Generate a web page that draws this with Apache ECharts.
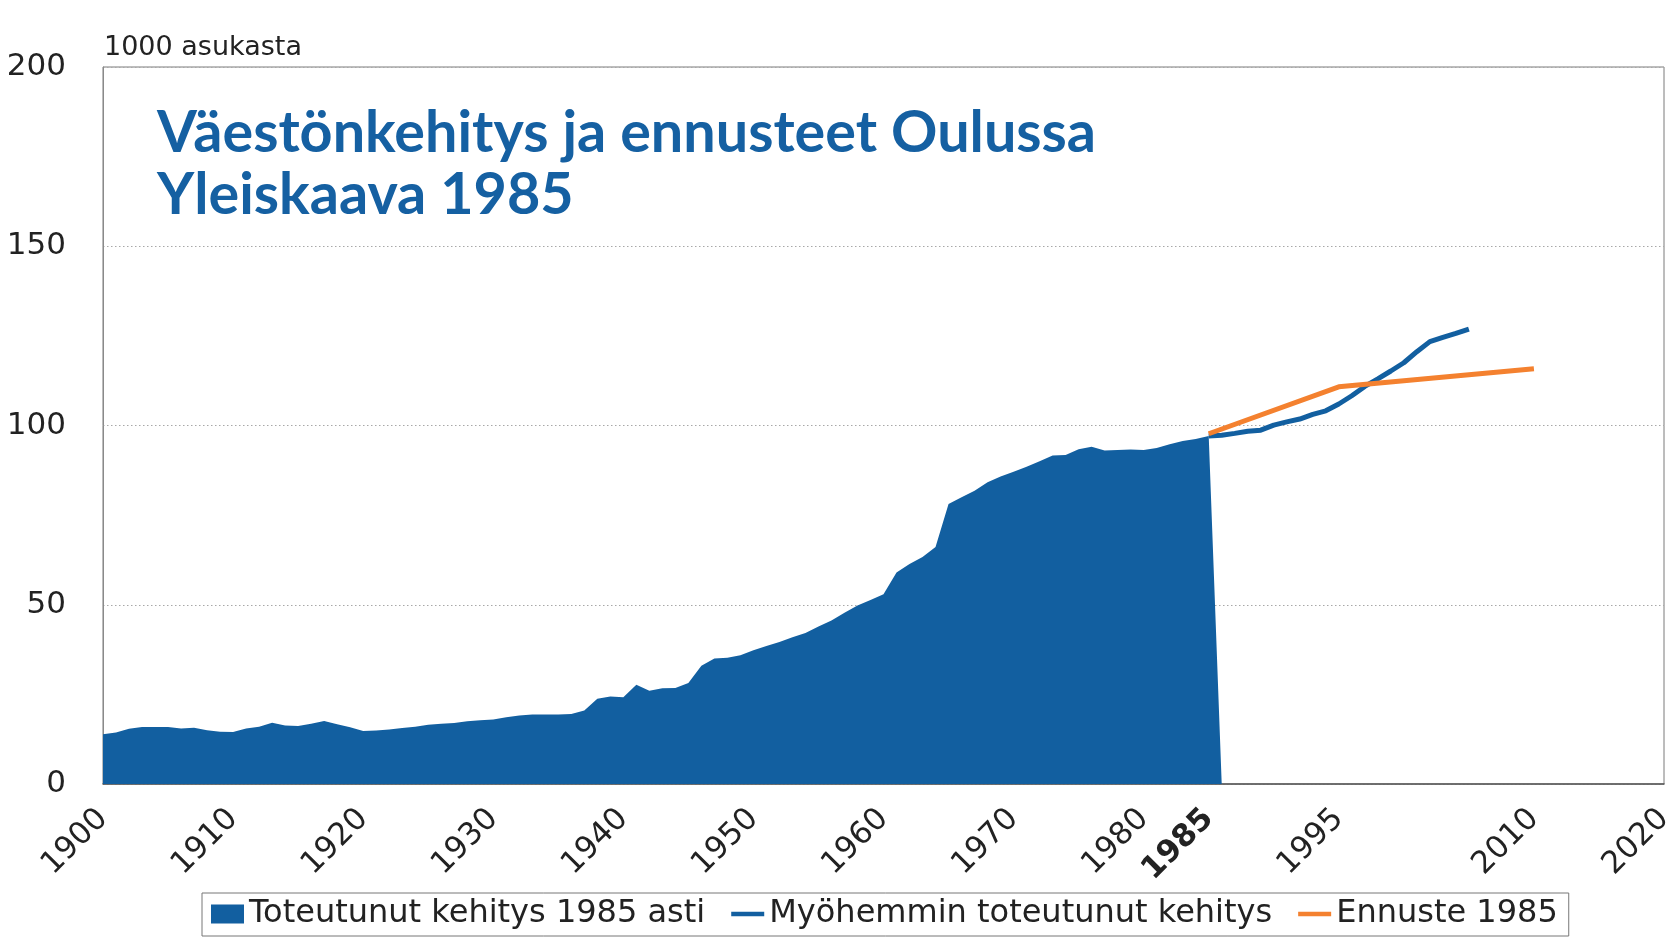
<!DOCTYPE html>
<html>
<head>
<meta charset="utf-8">
<script src="https://cdn.jsdelivr.net/npm/echarts@6/dist/echarts.min.js"></script>
<style>
html,body{margin:0;padding:0;background:#ffffff;overflow:hidden;}
#chart{width:1669px;height:952px;}
</style>
</head>
<body>
<div id="chart"></div>
<script>
// ---- Data ----
const histYears = [
  1900,1901,1902,1903,1904,1905,1906,1907,1908,1909,
  1910,1911,1912,1913,1914,1915,1916,1917,1918,1919,
  1920,1921,1922,1923,1924,1925,1926,1927,1928,1929,
  1930,1931,1932,1933,1934,1935,1936,1937,1938,1939,
  1940,1941,1942,1943,1944,1945,1946,1947,1948,1949,
  1950,1951,1952,1953,1954,1955,1956,1957,1958,1959,
  1960,1961,1962,1963,1964,1965,1966,1967,1968,1969,
  1970,1971,1972,1973,1974,1975,1976,1977,1978,1979,
  1980,1981,1982,1983,1984,1985,1986
];
const histValues = [
  13.9,14.4,15.4,15.9,15.9,15.9,15.5,15.7,15.0,14.6,
  14.5,15.5,16.0,17.1,16.3,16.2,16.8,17.6,16.7,15.8,
  14.8,14.9,15.2,15.6,16.0,16.5,16.8,17.0,17.5,17.8,
  18.0,18.6,19.1,19.4,19.4,19.4,19.5,20.5,23.8,24.4,
  24.2,27.7,26.0,26.7,26.8,28.2,33.0,35.0,35.2,35.9,
  37.3,38.5,39.6,40.9,42.1,43.9,45.6,47.8,49.8,51.3,
  52.9,59.0,61.4,63.3,66.1,78.1,80.0,81.8,84.2,85.8,
  87.1,88.5,90.0,91.6,91.8,93.4,94.1,93.0,93.2,93.3,
  93.2,93.7,94.8,95.7,96.2,97.1,0
];
const laterYears = [1985,1986,1987,1988,1989,1990,1991,1992,1993,1994,1995,
                    1996,1997,1998,1999,2000,2001,2002,2003,2004,2005];
const laterValues = [97.1,97.3,97.8,98.4,98.7,100.1,101.0,101.8,103.1,104.1,106.0,
                     108.3,110.9,113.0,115.2,117.5,120.6,123.4,124.6,125.7,126.9];
const forecastYears = [1985,1995,2010];
const forecastValues = [97.7,110.8,115.8];

const xLabelYears = [1900,1910,1920,1930,1940,1950,1960,1970,1980,1985,1995,2010,2020];
const boldYear = 1985;
const yTicks = [0,50,100,150,200];
const seriesNames = ['Toteutunut kehitys 1985 asti','Myöhemmin toteutunut kehitys','Ennuste 1985'];
const titleText = 'Väestönkehitys ja ennusteet Oulussa\nYleiskaava 1985';
const unitText = '1000 asukasta';

// ---- Chart ----
const zip = (xs, ys) => xs.map((x, i) => [x, ys[i]]);
const BLUE = '#125fa0';
const ORANGE = '#f4812f';
const TXT = '#222222';
const FONT = 'DejaVu Sans';

const chart = echarts.init(document.getElementById('chart'), null, {renderer: 'canvas', width: 1669, height: 952});
chart.setOption({
  backgroundColor: '#ffffff',
  animation: false,
  title: [
    {
      text: titleText,
      left: 152, top: 97,
      textStyle: {fontFamily: 'Lato', fontWeight: 'bold', fontSize: 57.5, lineHeight: 62, color: '#1560a2'}
    },
    {
      text: unitText,
      left: 99, top: 29,
      textStyle: {fontFamily: FONT, fontWeight: 'normal', fontSize: 27, color: TXT}
    }
  ],
  grid: {
    left: 103, top: 67, width: 1561, height: 717,
    show: true, borderColor: '#7a7a7a', borderWidth: 1,
    containLabel: false, outerBoundsMode: 'none'
  },
  legend: {
    left: 202, top: 893,
    itemWidth: 33, itemHeight: 19, itemGap: 26,
    padding: [5, 11, 6, 9],
    borderColor: '#777777', borderWidth: 1,
    textStyle: {fontFamily: FONT, fontSize: 32, color: TXT},
    data: [
      {name: seriesNames[0], icon: 'rect'},
      {name: seriesNames[1], icon: 'path://M0,0 H33 V4.5 H0 Z'},
      {name: seriesNames[2], icon: 'path://M0,0 H33 V4.5 H0 Z'}
    ]
  },
  xAxis: {
    type: 'value', min: 1900, max: 2020,
    axisLine: {show: true, lineStyle: {color: '#555555', width: 1.5}},
    axisTick: {show: false},
    splitLine: {show: false},
    axisLabel: {
      customValues: xLabelYears,
      rotate: 45, margin: 30,
      fontFamily: FONT, fontSize: 31, color: TXT,
      formatter: v => v === boldYear ? '{b|' + v + '}' : String(v),
      rich: {b: {fontFamily: FONT, fontSize: 31, fontWeight: 'bold', color: TXT}}
    }
  },
  yAxis: {
    type: 'value', min: 0, max: 200, interval: 50,
    axisLine: {show: true, lineStyle: {color: '#8a8a8a', width: 1}},
    axisTick: {show: false},
    splitLine: {show: true, lineStyle: {color: '#a8a8a8', width: 1, type: [1.5, 2.5]}},
    axisLabel: {
      customValues: yTicks,
      margin: 37, fontFamily: FONT, fontSize: 31, color: TXT
    }
  },
  series: [
    {
      name: seriesNames[0], type: 'line',
      data: zip(histYears, histValues),
      symbol: 'none', color: BLUE,
      lineStyle: {width: 0, color: BLUE},
      areaStyle: {color: BLUE, opacity: 1},
      itemStyle: {color: BLUE}
    },
    {
      name: seriesNames[1], type: 'line',
      data: zip(laterYears, laterValues),
      symbol: 'none', color: BLUE,
      lineStyle: {width: 5, color: BLUE},
      itemStyle: {color: BLUE}
    },
    {
      name: seriesNames[2], type: 'line',
      data: zip(forecastYears, forecastValues),
      symbol: 'none', color: ORANGE,
      lineStyle: {width: 5, color: ORANGE},
      itemStyle: {color: ORANGE}
    }
  ]
});
</script>
</body>
</html>
